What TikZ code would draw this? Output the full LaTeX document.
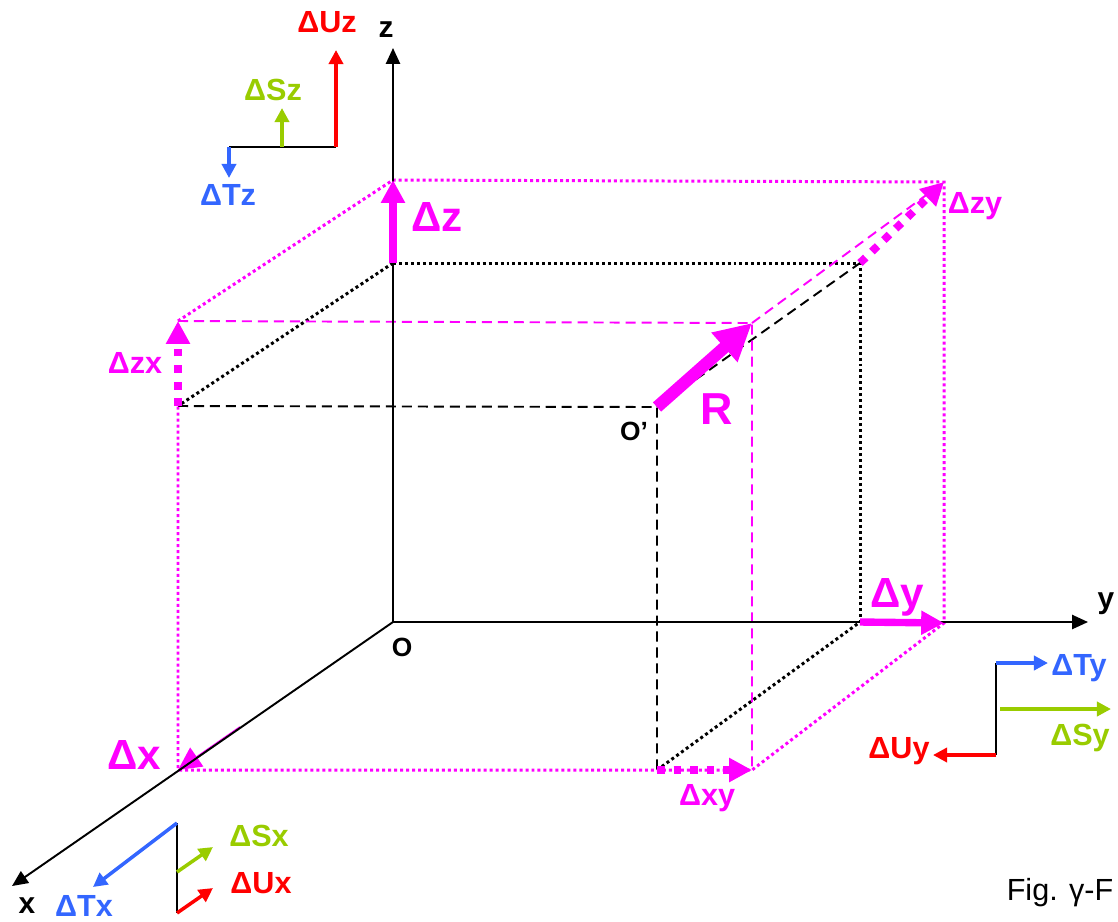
\documentclass[tikz,border=0pt]{standalone}
\usepackage{fontspec}
\setmainfont{Liberation Sans}
\usepackage{xcolor}
\usetikzlibrary{arrows.meta}

\definecolor{dispMag}{RGB}{255,0,255}
\definecolor{legRed}{RGB}{255,0,0}
\definecolor{legGreen}{RGB}{153,204,0}
\definecolor{legBlue}{RGB}{51,102,255}

\begin{document}
\begin{tikzpicture}[
  x=0.02cm, y=-0.02cm,
  font=\bfseries,
  axis/.style={line width=1.1pt, -{Triangle[length=9pt,width=8pt]}},
  edgedot/.style={line width=1.7pt, dash pattern=on 1.7pt off 1.7pt},
  edgedash/.style={line width=1.1pt, dash pattern=on 5.7pt off 3.4pt},
  disparrow/.style={dispMag, line width=4.2pt, -{Triangle[length=13pt,width=13pt]}},
  dispdot/.style={disparrow, line width=4.5pt, dash pattern=on 4.5pt off 4.9pt},
  legarrow/.style={line width=2pt, -{Triangle[length=8pt,width=8pt]}},
  leglbl/.style={inner sep=0pt, font=\fontsize{17.4}{17.4}\selectfont\bfseries},
  biglbl/.style={inner sep=0pt, text=dispMag, font=\fontsize{24}{24}\selectfont\bfseries},
  midlbl/.style={leglbl, text=dispMag},
  axlbl/.style={inner sep=0pt, font=\fontsize{17}{17}\selectfont\bfseries}
]
  \useasboundingbox (0,0) rectangle (1118,921);

  \coordinate (O) at (393,622);
  \coordinate (xend) at (12,886);
  \coordinate (yend) at (1088,622);
  \coordinate (zend) at (393,48);
  \coordinate (X) at (178,770);
  \coordinate (Xs) at (240,727);
  \coordinate (Y) at (860,622);
  \coordinate (Z) at (393,263);
  \coordinate (XZ) at (178,406);
  \coordinate (YZ) at (860,263);
  \coordinate (XY) at (657,770);
  \coordinate (Op) at (657,407);
  \coordinate (Zd) at (393,180);
  \coordinate (YZd) at (944,182);
  \coordinate (XZd) at (178,321);
  \coordinate (Rd) at (752,323);
  \coordinate (XYd) at (752,770);
  \coordinate (Yd) at (944,623);

  \draw[edgedot] (Z) -- (YZ) -- (Y);
  \draw[edgedot] (Z) -- (XZ);
  \draw[edgedot] (XY) -- (Y);
  \draw[edgedash] (XZ) -- (Op) -- (XY);
  \draw[edgedash] (Op) -- (YZ);

  \draw[edgedot, dispMag] (XZd) -- (Zd) -- (YZd) -- (Yd) -- (XYd) -- (X) -- (XZ);
  \draw[edgedash, dispMag] (XZd) -- (Rd) -- (XYd);
  \draw[edgedash, dispMag] (Rd) -- (YZd);

  \draw[disparrow, line width=1pt] (Xs) -- (X);

  \draw[axis] (O) -- (xend);
  \draw[axis] (O) -- (yend);
  \draw[axis] (O) -- (zend);

  \draw[disparrow] (Z) -- (Zd);
  \draw[disparrow] (Y) -- (Yd);
  \draw[dispdot] (XZ) -- (XZd);
  \draw[dispdot] (YZ) -- (YZd);
  \draw[dispdot] (XY) -- (XYd);
  \draw[dispMag, line width=7pt, -{Triangle[length=21pt,width=21pt]}] (Op) -- (Rd);

  \node[axlbl] (lx) at (27,906) {x};
  \node[axlbl] (ly) at (1106,604) {y};
  \node[axlbl] (lz) at (386,30) {z};
  \node[inner sep=0pt, font=\fontsize{15}{15}\selectfont\bfseries] (lO) at (402,647) {O};
  \node[inner sep=0pt, font=\fontsize{15}{15}\selectfont\bfseries] (lOp) at (634,431) {O’};

  \node[biglbl] (ldz) at (437,217) {Δz};
  \node[biglbl] (ldy) at (897,597) {Δy};
  \node[biglbl] (ldx) at (134,755) {Δx};
  \node[biglbl, font=\fontsize{25.5}{25.5}\selectfont\bfseries] (lR) at (717,409) {R};
  \node[midlbl] (ldzy) at (975,206) {Δzy};
  \node[midlbl] (ldzx) at (135,363) {Δzx};
  \node[midlbl] (ldxy) at (707,798) {Δxy};

  \coordinate (zl0) at (229,147);
  \coordinate (zl1) at (282,147);
  \coordinate (zl2) at (336,147);
  \draw[line width=1.1pt] (zl0) -- (zl2);
  \draw[legarrow, legRed] (zl2) -- (336,50);
  \draw[legarrow, legGreen] (zl1) -- (282,108);
  \draw[legarrow, legBlue] (zl0) -- (229,178);
  \node[leglbl, text=legRed] (lUz) at (327,22) {ΔUz};
  \node[leglbl, text=legGreen] (lSz) at (273,90) {ΔSz};
  \node[leglbl, text=legBlue] (lTz) at (228,195) {ΔTz};

  \coordinate (yl0) at (996,663);
  \coordinate (yl1) at (1000,709);
  \coordinate (yl2) at (996,755);
  \draw[line width=1.1pt] (yl0) -- (yl2);
  \draw[legarrow, legBlue] (yl0) -- (1048,663);
  \draw[legarrow, legGreen] (yl1) -- (1111,709);
  \draw[legarrow, legRed] (yl2) -- (933,755);
  \node[leglbl, text=legBlue] (lTy) at (1079,668) {ΔTy};
  \node[leglbl, text=legGreen] (lSy) at (1080,738) {ΔSy};
  \node[leglbl, text=legRed] (lUy) at (899,751) {ΔUy};

  \coordinate (xl0) at (177,823);
  \coordinate (xl1) at (177,872);
  \coordinate (xl2) at (177,913);
  \draw[line width=1.1pt] (xl0) -- (xl2);
  \draw[legarrow, legBlue] (xl0) -- (93,887);
  \draw[legarrow, legGreen] (xl1) -- (213,847);
  \draw[legarrow, legRed] (xl2) -- (213,888);
  \node[leglbl, text=legBlue] (lTx) at (84,906) {ΔTx};
  \node[leglbl, text=legGreen] (lSx) at (259,836) {ΔSx};
  \node[leglbl, text=legRed] (lUx) at (261,883) {ΔUx};

  \node[inner sep=0pt, font=\fontsize{17.4}{17.4}\selectfont] (fig) at (1060,893) {Fig. γ-F};
\end{tikzpicture}
\end{document}
